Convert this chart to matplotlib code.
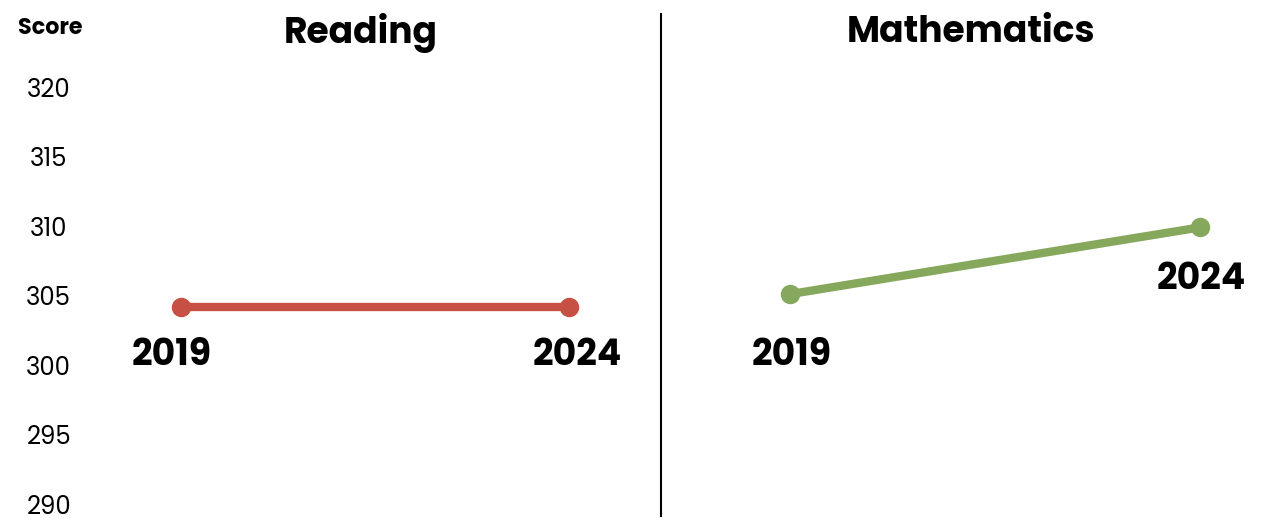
import matplotlib
matplotlib.use("Agg")
import matplotlib.pyplot as plt
from matplotlib.lines import Line2D

# ---- data ----
years = ["2019", "2024"]
reading_scores = [304.2, 304.2]
math_scores = [305.1, 309.9]
yticks = [290, 295, 300, 305, 310, 315, 320]
panel_titles = ["Reading", "Mathematics"]
y_label = "Score"

RED = "#C65043"
GREEN = "#86A85C"
FONT = ["Poppins", "DejaVu Sans"]
plt.rcParams["font.family"] = FONT

W, H = 1270, 526
fig = plt.figure(figsize=(W / 100, H / 100), dpi=100)

def px_axes(x0, x1, y0, y1):
    # pixel box (top-left origin) -> figure fraction
    return fig.add_axes([x0 / W, 1 - y1 / H, (x1 - x0) / W, (y1 - y0) / H])

# y mapping: 320 -> px 87, 290 -> px 504
ppu = (504 - 87) / 30.0
ytop = 320 + (87 - 14) / ppu
ybot = 290 - (516 - 504) / ppu

# left panel: points at px 181 and 569 ; axes 100..650
axL = px_axes(100, 650, 14, 516)
uL = 569 - 181
axL.set_xlim(-(181 - 100) / uL, 1 + (650 - 569) / uL)
# right panel: points at px 790 and 1200 ; axes 672..1265
axR = px_axes(672, 1265, 14, 516)
uR = 1200 - 790
axR.set_xlim(-(790 - 672) / uR, 1 + (1265 - 1200) / uR)

xs = [0, 1]
for ax, vals, col in [(axL, reading_scores, RED), (axR, math_scores, GREEN)]:
    ax.set_ylim(ybot, ytop)
    ax.plot(xs, vals, color=col, lw=6, marker="o", ms=13, solid_capstyle="round",
            clip_on=False, zorder=3)
    for s in ax.spines.values():
        s.set_visible(False)
    ax.set_xticks([])
    ax.set_facecolor("none")

axL.set_yticks(yticks)
axL.set_yticklabels([str(t) for t in yticks], fontsize=17.5, ha="center")
axL.tick_params(axis="y", length=0, pad=37)
axR.set_yticks([])

# year labels below points (offsets in points)
label_offsets = {
    (0, 0): (-7, -36), (0, 1): (6, -36),
    (1, 0): (1, -45), (1, 1): (1, -38),
}
for i, (ax, vals) in enumerate([(axL, reading_scores), (axR, math_scores)]):
    for j, (x, v) in enumerate(zip(xs, vals)):
        ax.annotate(years[j], (x, v), xytext=label_offsets[(i, j)], textcoords="offset points",
                    ha="center", va="center", fontsize=26, fontweight="bold", color="black",
                    annotation_clip=False)

# titles
fig.text(361 / W, 1 - 33 / H, panel_titles[0], ha="center", va="center",
         fontsize=26, fontweight="bold")
fig.text(971 / W, 1 - 33 / H, panel_titles[1], ha="center", va="center",
         fontsize=26, fontweight="bold")
fig.text(50 / W, 1 - 28 / H, y_label, ha="center", va="center",
         fontsize=16, fontweight="bold")

# divider
fig.add_artist(Line2D([661 / W, 661 / W], [1 - 14 / H, 1 - 516 / H],
                      transform=fig.transFigure, color="black", lw=1.5))

fig.savefig("out.png", dpi=100, facecolor="white")
